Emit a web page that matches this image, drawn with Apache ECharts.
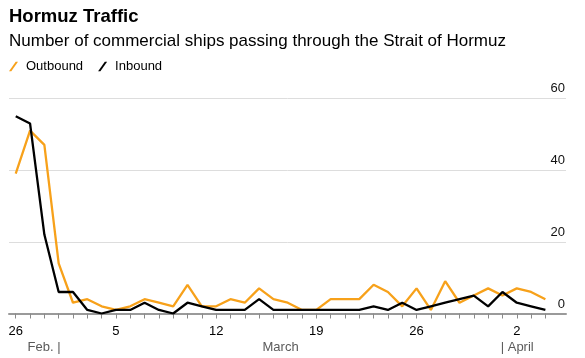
<!DOCTYPE html>
<html><head><meta charset="utf-8">
<script src="https://cdn.jsdelivr.net/npm/echarts@6/dist/echarts.min.js"></script>
<style>html,body{margin:0;padding:0;background:#fff}#c{width:585px;height:358px}</style>
</head><body><div id="c"></div>
<script>
// ---- data ----
const days = ['Feb 26','Feb 27','Feb 28',
  'Mar 1','Mar 2','Mar 3','Mar 4','Mar 5','Mar 6','Mar 7','Mar 8','Mar 9','Mar 10',
  'Mar 11','Mar 12','Mar 13','Mar 14','Mar 15','Mar 16','Mar 17','Mar 18','Mar 19','Mar 20',
  'Mar 21','Mar 22','Mar 23','Mar 24','Mar 25','Mar 26','Mar 27','Mar 28','Mar 29','Mar 30','Mar 31',
  'Apr 1','Apr 2','Apr 3','Apr 4'];
const outbound = [39,51,47,14,3,4,2,1,2,4,3,2,8,2,2,4,3,7,4,3,1,1,4,4,4,8,6,2,7,1,9,3,5,7,5,7,6,4];
const inbound  = [55,53,22,6,6,1,0,1,1,3,1,0,3,2,1,1,1,4,1,1,1,1,1,1,1,2,1,3,1,2,3,4,5,2,6,3,2,1];
const tickDays = ['Feb 26','Mar 5','Mar 12','Mar 19','Mar 26','Apr 2'];
const tickLabels = ['26','5','12','19','26','2'];
const monthLabels = ['Feb. |','March','| April'];
const seriesNames = ['Outbound','Inbound'];

// ---- chart ----
const FONT = '"Liberation Sans", Arial, Helvetica, sans-serif';
const ORANGE = '#f7a11a';
const BLACK = '#000000';
const idx = d => days.indexOf(d);
const xMin = -0.47, xMax = 38.44;
const slash = 'path://M0,10 L7,0 L9.4,0 L2.4,10 Z';

const tickIdx = tickDays.map(idx);
const labelMap = {};
tickIdx.forEach((v,i)=>{ labelMap[v] = tickLabels[i]; });

const marStart = idx('Mar 1');
const aprStart = idx('Apr 1');
const monthPos = [marStart + 0.13, (marStart + aprStart) / 2, aprStart - 0.12];
const monthAlign = ['right','center','left'];

function monthAxis(i){
  return {
    type:'value', min:xMin, max:xMax, position:'bottom', gridIndex:0,
    axisLine:{show:false}, axisTick:{show:false}, splitLine:{show:false},
    axisLabel:{
      customValues:[monthPos[i]], margin:27, fontSize:13, lineHeight:13,
      color:'#5a5a5a', fontFamily:FONT, align:monthAlign[i], showMinLabel:true, showMaxLabel:true,
      formatter:()=>monthLabels[i]
    }
  };
}

const chart = echarts.init(document.getElementById('c'), null, {renderer:'canvas'});
chart.setOption({
  animation:false,
  backgroundColor:'#fff',
  textStyle:{fontFamily:FONT},
  title:[
    {text:'Hormuz Traffic', left:9, top:7, padding:0,
     textStyle:{fontSize:18.5, fontWeight:'bold', color:'#000', fontFamily:FONT}},
    {text:'Number of commercial ships passing through the Strait of Hormuz', left:9, top:33, padding:0,
     textStyle:{fontSize:17, fontWeight:'normal', color:'#000', fontFamily:FONT}}
  ],
  legend:{
    left:9, top:60, padding:0, itemWidth:9, itemHeight:10, itemGap:15, icon:slash,
    textStyle:{fontSize:13, color:'#000', fontFamily:FONT, padding:[0,0,0,3]},
    data:seriesNames.map((n,i)=>({name:n, itemStyle:{color:i===0?ORANGE:BLACK}}))
  },
  grid:{left:9, right:19, top:98.3, bottom:44.5, containLabel:false, outerBoundsMode:'none'},
  xAxis:[
    {
      type:'value', min:xMin, max:xMax, position:'bottom',
      axisLine:{show:true, lineStyle:{color:'#9a9a9a', width:2}},
      axisTick:{show:true, customValues:days.map((d,i)=>i), length:5, lineStyle:{color:'#8a8a8a', width:1}},
      splitLine:{show:false},
      axisLabel:{customValues:tickIdx, margin:11.5, fontSize:13, lineHeight:13, color:'#000', fontFamily:FONT,
        formatter:v=>labelMap[v]}
    },
    monthAxis(0), monthAxis(1), monthAxis(2)
  ],
  yAxis:{
    type:'value', position:'right', min:0, max:60, interval:20,
    axisLine:{show:false}, axisTick:{show:false},
    splitLine:{show:true, lineStyle:{color:'#dddddd', width:1}},
    axisLabel:{inside:true, margin:1, verticalAlign:'bottom', lineHeight:19, fontSize:13, color:'#111', fontFamily:FONT}
  },
  series:[
    {name:seriesNames[0], type:'line', symbol:'none', color:ORANGE, lineStyle:{width:2.3, color:ORANGE},
     data:outbound.map((v,i)=>[i,v])},
    {name:seriesNames[1], type:'line', symbol:'none', color:BLACK, lineStyle:{width:2.3, color:BLACK},
     data:inbound.map((v,i)=>[i,v])}
  ]
});
</script>
</body></html>
